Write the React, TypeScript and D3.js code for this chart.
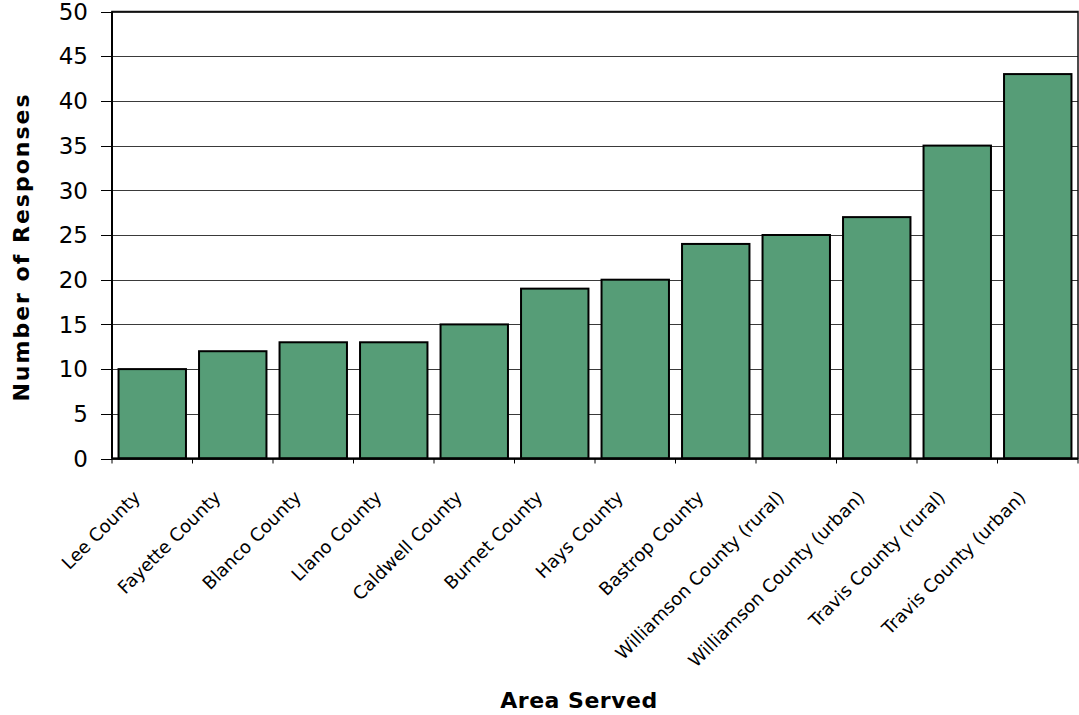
import React from "react";
import * as d3 from "d3";

const categories: string[] = [
  "Lee County",
  "Fayette County",
  "Blanco County",
  "Llano County",
  "Caldwell County",
  "Burnet County",
  "Hays County",
  "Bastrop County",
  "Williamson County (rural)",
  "Williamson County (urban)",
  "Travis County (rural)",
  "Travis County (urban)",
];

const responses: number[] = [10, 12, 13, 13, 15, 19, 20, 24, 25, 27, 35, 43];

const yTicks: number[] = [0, 5, 10, 15, 20, 25, 30, 35, 40, 45, 50];

const xTitle = "Area Served";
const yTitle = "Number of Responses";

const W = 1079;
const H = 715;
const margin = { left: 112, right: 1, top: 11.5, bottom: 256.5 };

export default function App() {
  const x = d3
    .scaleBand<string>()
    .domain(categories)
    .range([margin.left, W - margin.right])
    .paddingInner(0.15)
    .paddingOuter(0.075);

  const y = d3
    .scaleLinear()
    .domain([0, 50])
    .range([H - margin.bottom, margin.top]);

  const step = x.step();
  const x0 = margin.left;
  const x1 = W - margin.right;
  const yBottom = y(0);
  const yTop = y(50);
  const font = "'DejaVu Sans', sans-serif";

  return (
    <svg
      width={W}
      height={H}
      style={{ position: "absolute", left: 0, top: 0, background: "#fff" }}
    >
      {/* horizontal gridlines */}
      {yTicks.map((t) => (
        <line
          key={"g" + t}
          x1={x0}
          x2={x1}
          y1={Math.round(y(t)) + 0.5}
          y2={Math.round(y(t)) + 0.5}
          stroke="#3a3a3a"
          strokeWidth={1}
        />
      ))}

      {/* bars */}
      {categories.map((c, i) => (
        <rect
          key={c}
          x={(x(c) as number) + 0.5}
          y={y(responses[i])}
          width={x.bandwidth() - 1}
          height={yBottom - y(responses[i])}
          fill="#569d77"
          stroke="#000"
          strokeWidth={2}
        />
      ))}

      {/* plot frame */}
      <rect
        x={x0}
        y={yTop}
        width={x1 - x0}
        height={yBottom - yTop}
        fill="none"
        stroke="#111"
        strokeWidth={1.5}
      />
      <line x1={x0} x2={x0} y1={yTop} y2={yBottom} stroke="#000" strokeWidth={2} />
      <line x1={x0} x2={x1} y1={yBottom} y2={yBottom} stroke="#000" strokeWidth={2} />

      {/* y ticks and labels */}
      {yTicks.map((t) => (
        <g key={"y" + t}>
          <line
            x1={x0 - 11}
            x2={x0}
            y1={Math.round(y(t)) + 0.5}
            y2={Math.round(y(t)) + 0.5}
            stroke="#000"
            strokeWidth={1}
          />
          <text
            x={88}
            y={y(t)}
            dy="0.36em"
            textAnchor="end"
            fontFamily={font}
            fontSize={23}
            fill="#000"
          >
            {t}
          </text>
        </g>
      ))}

      {/* x tick marks at category boundaries */}
      {d3.range(categories.length + 1).map((i) => (
        <line
          key={"xt" + i}
          x1={x0 + i * step}
          x2={x0 + i * step}
          y1={yBottom}
          y2={yBottom + 5}
          stroke="#000"
          strokeWidth={1}
        />
      ))}

      {/* rotated category labels */}
      {categories.map((c) => {
        const cx = (x(c) as number) + x.bandwidth() / 2;
        return (
          <text
            key={"l" + c}
            transform={`translate(${cx - 11},${yBottom + 40}) rotate(-45)`}
            textAnchor="end"
            fontFamily={font}
            fontSize={18}
            fill="#000"
          >
            {c}
          </text>
        );
      })}

      {/* axis titles */}
      <text
        x={579}
        y={708}
        textAnchor="middle"
        fontFamily={font}
        fontWeight="bold"
        fontSize={22}
        letterSpacing={0.5}
        fill="#000"
      >
        {xTitle}
      </text>
      <text
        transform={`translate(29,${(yTop + yBottom) / 2 + 12}) rotate(-90)`}
        textAnchor="middle"
        fontFamily={font}
        fontWeight="bold"
        fontSize={22}
        letterSpacing={2}
        fill="#000"
      >
        {yTitle}
      </text>
    </svg>
  );
}
